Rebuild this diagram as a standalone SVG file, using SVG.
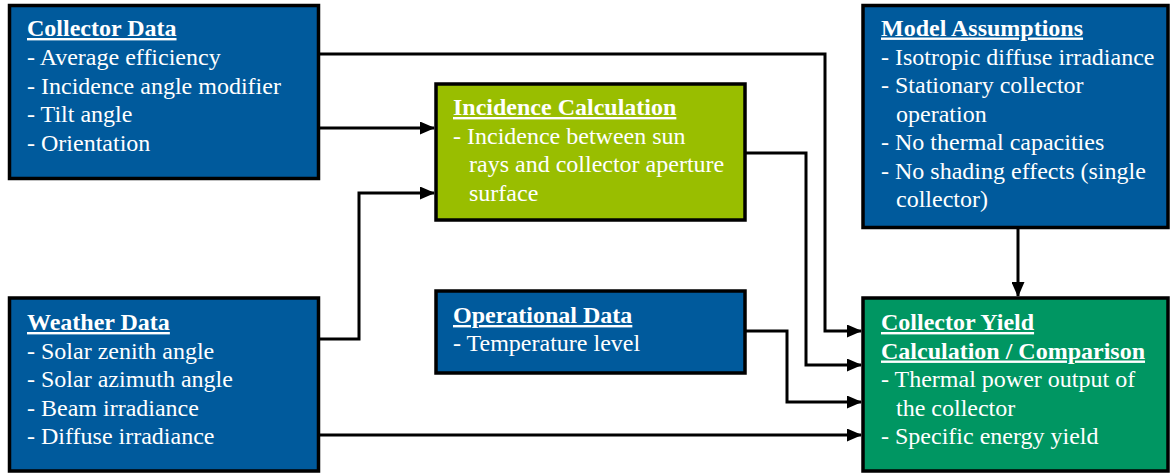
<svg xmlns="http://www.w3.org/2000/svg" width="1170" height="473" viewBox="0 0 1170 473">
  <defs>
    <marker id="arrow" markerWidth="15" markerHeight="13" refX="14" refY="6.5" orient="auto" markerUnits="userSpaceOnUse">
      <path d="M0,0 L15,6.5 L0,13 Z" fill="#000"/>
    </marker>
  </defs>
  <rect width="1170" height="473" fill="#fff"/>

  <!-- connectors: orthogonal black wires ending in filled arrowheads -->
  <g id="connectors" fill="none" stroke="#000" stroke-width="3">
    <path d="M320,54 H825 V331 H861" marker-end="url(#arrow)"/>
    <path d="M320,128 H434" marker-end="url(#arrow)"/>
    <path d="M320,339 H359 V193 H434" marker-end="url(#arrow)"/>
    <path d="M746,153 H806 V365 H861" marker-end="url(#arrow)"/>
    <path d="M746,331 H787 V402 H861" marker-end="url(#arrow)"/>
    <path d="M320,435 H861" marker-end="url(#arrow)"/>
    <path d="M1018,228 V296" marker-end="url(#arrow)"/>
  </g>

  <g id="collector-data">
    <rect x="9.5" y="5.5" width="309" height="173" fill="#005A9C" stroke="#000" stroke-width="3.5"/>
    <g font-family="'Liberation Serif', serif" font-size="24" fill="#fff">
      <text x="27" y="36" font-weight="bold" text-decoration="underline">Collector Data</text>
      <text x="27" y="65">- Average efficiency</text>
      <text x="27" y="93.5">- Incidence angle modifier</text>
      <text x="27" y="122">- Tilt angle</text>
      <text x="27" y="151">- Orientation</text>
    </g>
  </g>

  <g id="incidence-calculation">
    <rect x="436" y="84" width="309" height="136" fill="#99BE00" stroke="#000" stroke-width="3.5"/>
    <g font-family="'Liberation Serif', serif" font-size="24" fill="#fff">
      <text x="453" y="115" font-weight="bold" text-decoration="underline">Incidence Calculation</text>
      <text x="453" y="143.5">- Incidence between sun</text>
      <text x="469" y="172">rays and collector aperture</text>
      <text x="469" y="200.5">surface</text>
    </g>
  </g>

  <g id="model-assumptions">
    <rect x="863" y="5.5" width="305" height="222" fill="#005A9C" stroke="#000" stroke-width="3.5"/>
    <g font-family="'Liberation Serif', serif" font-size="24" fill="#fff">
      <text x="881" y="35.5" font-weight="bold" text-decoration="underline">Model Assumptions</text>
      <text x="881" y="64.5">- Isotropic diffuse irradiance</text>
      <text x="881" y="93">- Stationary collector</text>
      <text x="896" y="121.5">operation</text>
      <text x="881" y="150">- No thermal capacities</text>
      <text x="881" y="178.5">- No shading effects (single</text>
      <text x="896" y="207">collector)</text>
    </g>
  </g>

  <g id="weather-data">
    <rect x="9.5" y="298" width="309" height="173" fill="#005A9C" stroke="#000" stroke-width="3.5"/>
    <g font-family="'Liberation Serif', serif" font-size="24" fill="#fff">
      <text x="27" y="330" font-weight="bold" text-decoration="underline">Weather Data</text>
      <text x="27" y="358.5">- Solar zenith angle</text>
      <text x="27" y="387">- Solar azimuth angle</text>
      <text x="27" y="415.5">- Beam irradiance</text>
      <text x="27" y="444">- Diffuse irradiance</text>
    </g>
  </g>

  <g id="operational-data">
    <rect x="436" y="291" width="309" height="82" fill="#005A9C" stroke="#000" stroke-width="3.5"/>
    <g font-family="'Liberation Serif', serif" font-size="24" fill="#fff">
      <text x="453" y="323" font-weight="bold" text-decoration="underline">Operational Data</text>
      <text x="453" y="351">- Temperature level</text>
    </g>
  </g>

  <g id="collector-yield">
    <rect x="863" y="298" width="305" height="173" fill="#009662" stroke="#000" stroke-width="3.5"/>
    <g font-family="'Liberation Serif', serif" font-size="24" fill="#fff">
      <text x="881" y="330" font-weight="bold" text-decoration="underline">Collector Yield</text>
      <text x="881" y="358.5" font-weight="bold" text-decoration="underline">Calculation / Comparison</text>
      <text x="881" y="387">- Thermal power output of</text>
      <text x="896" y="415.5">the collector</text>
      <text x="881" y="444">- Specific energy yield</text>
    </g>
  </g>
</svg>
